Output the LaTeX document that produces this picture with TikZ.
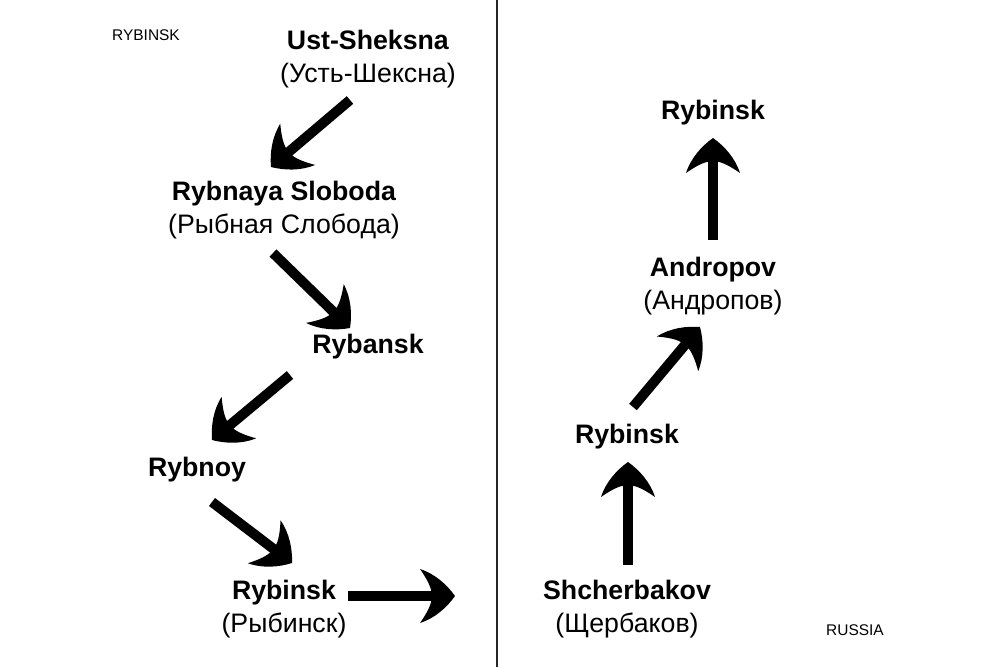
\documentclass[tikz,border=0pt]{standalone}
\usepackage{fontspec}
\setmainfont{Liberation Sans}
\usetikzlibrary{arrows.meta, calc, positioning}

% curved-barb arrow head
\pgfdeclarearrow{
  name = Swoop,
  parameters = {\the\pgfarrowlength,\the\pgfarrowwidth},
  setup code = {
    \pgfarrowssettipend{0pt}
    \pgfarrowssetlineend{-.5\pgfarrowlength}
    \pgfarrowssetbackend{-\pgfarrowlength}
    \pgfarrowssetvisualbackend{-.5\pgfarrowlength}
    \pgfarrowshullpoint{0pt}{0pt}
    \pgfarrowsupperhullpoint{-\pgfarrowlength}{.5\pgfarrowwidth}
    \pgfarrowssavethe\pgfarrowlength
    \pgfarrowssavethe\pgfarrowwidth
  },
  drawing code = {
    \pgfpathmoveto{\pgfqpoint{0pt}{0pt}}
    \pgfpathcurveto{\pgfqpoint{-.23\pgfarrowlength}{.21\pgfarrowwidth}}{\pgfqpoint{-.57\pgfarrowlength}{.41\pgfarrowwidth}}{\pgfqpoint{-\pgfarrowlength}{.5\pgfarrowwidth}}
    \pgfpathcurveto{\pgfqpoint{-.85\pgfarrowlength}{.36\pgfarrowwidth}}{\pgfqpoint{-.72\pgfarrowlength}{.22\pgfarrowwidth}}{\pgfqpoint{-.68\pgfarrowlength}{.1\pgfarrowwidth}}
    \pgfpathlineto{\pgfqpoint{-.68\pgfarrowlength}{-.1\pgfarrowwidth}}
    \pgfpathcurveto{\pgfqpoint{-.72\pgfarrowlength}{-.22\pgfarrowwidth}}{\pgfqpoint{-.85\pgfarrowlength}{-.36\pgfarrowwidth}}{\pgfqpoint{-\pgfarrowlength}{-.5\pgfarrowwidth}}
    \pgfpathcurveto{\pgfqpoint{-.57\pgfarrowlength}{-.41\pgfarrowwidth}}{\pgfqpoint{-.23\pgfarrowlength}{-.21\pgfarrowwidth}}{\pgfqpoint{0pt}{0pt}}
    \pgfpathclose
    \pgfusepathqfill
  },
  defaults = {length=24.9pt, width=38.4pt}
}

\tikzstyle{place} = [align=center, inner sep=0pt, font=\fontsize{19}{23}\selectfont]
\tikzstyle{tag} = [inner sep=0pt, font=\fontsize{11}{13}\selectfont]
\tikzstyle{move} = [line width=7.1pt, black, -{Swoop}]

\begin{document}
\begin{tikzpicture}[x=0.025cm, y=-0.025cm]
    \useasboundingbox (0,0) rectangle (1000,667);
    \fill[white] (0,0) rectangle (1000,667);

    % Divider
    \draw[line width=1.1pt, black!85] (497,0) -- (497,667);

    % Corner tags
    \node[tag] (lefttag) at (146,35) {RYBINSK};
    \node[tag] (righttag) at (855,630) {RUSSIA};

    % Left column
    \node[place] (ust) at (368,59) {\textbf{Ust-Sheksna}\\(Усть-Шексна)};
    \node[place] (slo) at (284,210) {\textbf{Rybnaya Sloboda}\\(Рыбная Слобода)};
    \node[place] (rybansk) at (368,347) {\textbf{Rybansk}};
    \node[place] (rybnoy) at (197,470) {\textbf{Rybnoy}};
    \node[place] (ryba) at (284,609) {\textbf{Rybinsk}\\(Рыбинск)};

    % Right column
    \node[place] (shch) at (627,609) {\textbf{Shcherbakov}\\(Щербаков)};
    \node[place] (rybb) at (627,437) {\textbf{Rybinsk}};
    \node[place] (andr) at (713,286) {\textbf{Andropov}\\(Андропов)};
    \node[place] (rybc) at (713,113) {\textbf{Rybinsk}};

    \coordinate (wall) at (455,596);

    % Renamings
    \draw[move] ($(ust)+(-18,41)$) -- ($(slo)+(-13,-43)$);
    \draw[move] ($(slo)+(-11,43)$) -- ($(rybansk)+(-18,-19)$);
    \draw[move] ($(rybansk)+(-78,28)$) -- ($(rybnoy)+(15,-30)$);
    \draw[move] ($(rybnoy)+(15,32)$) -- ($(ryba)+(8,-46)$);
    \draw[move] ($(ryba)+(64,-13)$) -- (wall);
    \draw[move] ($(shch)+(1,-44)$) -- ($(rybb)+(1,25)$);
    \draw[move] ($(rybb)+(6,-30)$) -- ($(andr)+(-13,41)$);
    \draw[move] ($(andr)+(0,-46)$) -- ($(rybc)+(0,25)$);
\end{tikzpicture}
\end{document}
